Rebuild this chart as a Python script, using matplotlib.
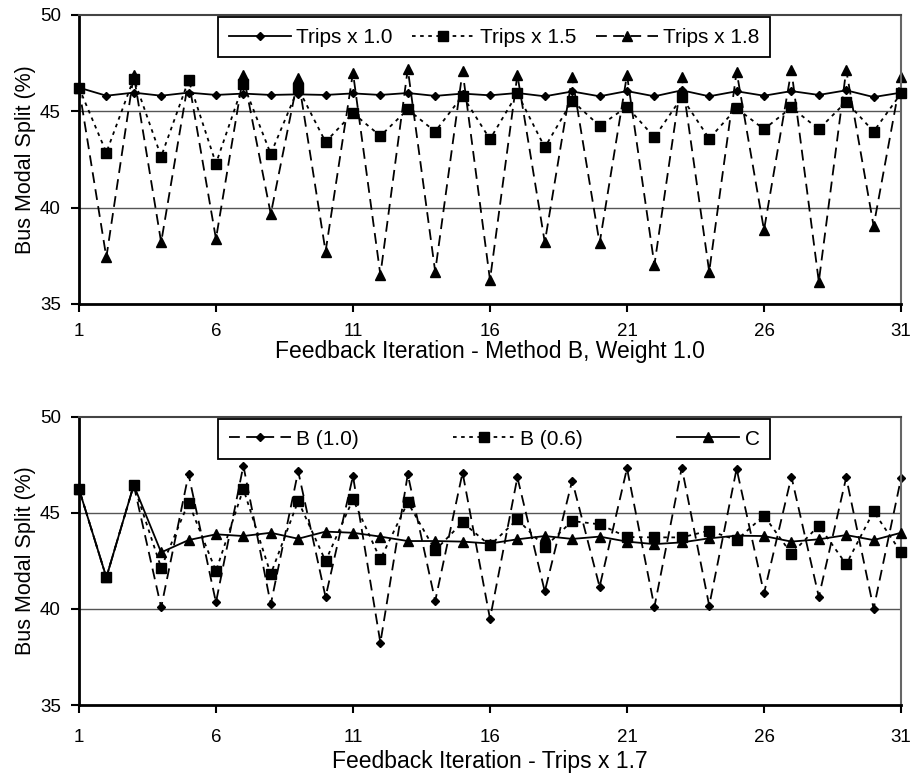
import matplotlib
matplotlib.use("Agg")
import matplotlib.pyplot as plt

plt.rcParams['font.family'] = ['Liberation Sans', 'DejaVu Sans']

iters = list(range(1, 32))

# top panel: Method B, weight 1.0
trips_10 = [46.23, 45.81, 45.97, 45.81, 45.97, 45.85, 45.92, 45.85, 45.88, 45.85,
            45.93, 45.85, 45.95, 45.80, 45.92, 45.83, 45.95, 45.78, 46.03, 45.78,
            46.05, 45.78, 46.09, 45.78, 46.04, 45.81, 46.05, 45.85, 46.09, 45.74, 45.97]
trips_15 = [46.23, 42.86, 46.70, 42.65, 46.61, 42.29, 46.42, 42.79, 46.19, 43.41,
            44.91, 43.72, 45.10, 43.95, 45.81, 43.55, 45.93, 43.13, 45.55, 44.24,
            45.24, 43.65, 45.73, 43.58, 45.16, 44.07, 45.20, 44.07, 45.50, 43.95, 45.93]
trips_18 = [46.23, 37.42, 46.89, 38.20, 46.63, 38.38, 46.89, 39.67, 46.75, 37.72,
            47.01, 36.51, 47.20, 36.68, 47.09, 36.25, 46.89, 38.20, 46.77, 38.15,
            46.89, 37.03, 46.77, 36.68, 47.06, 38.84, 47.14, 36.16, 47.14, 39.05, 46.77]

# bottom panel: trips x 1.7
b_10 = [46.24, 41.64, 46.44, 40.08, 47.00, 40.34, 47.45, 40.24, 47.16, 40.62,
        46.91, 38.24, 47.00, 40.41, 47.09, 39.49, 46.84, 40.91, 46.67, 41.15,
        47.31, 40.10, 47.35, 40.17, 47.29, 40.81, 46.88, 40.63, 46.84, 40.01, 46.79]
b_06 = [46.24, 41.64, 46.44, 42.14, 45.53, 41.97, 46.24, 41.81, 45.61, 42.49,
        45.70, 42.58, 45.54, 43.05, 44.50, 43.30, 44.66, 43.22, 44.57, 44.40,
        43.74, 43.72, 43.72, 44.07, 43.58, 44.85, 42.87, 44.33, 42.32, 45.07, 42.94]
c_vals = [46.24, 41.64, 46.44, 42.94, 43.58, 43.88, 43.79, 43.96, 43.65, 44.02,
          43.96, 43.76, 43.53, 43.53, 43.50, 43.40, 43.62, 43.79, 43.64, 43.76,
          43.50, 43.37, 43.46, 43.67, 43.81, 43.79, 43.50, 43.62, 43.84, 43.58, 43.96]

xticks = [1, 6, 11, 16, 21, 26, 31]

fig = plt.figure(figsize=(9.18, 7.81), dpi=100)
ax1 = fig.add_axes([0.086, 0.6108, 0.8955, 0.37])
ax2 = fig.add_axes([0.086, 0.0973, 0.8955, 0.3692])

dash_long = (0, (6, 3.5))
dash_short = (0, (2, 2.5))


def style_axes(ax, xlabel, xpad, lpad):
    ax.set_xlim(1, 31)
    ax.set_ylim(35, 50)
    ax.set_yticks([35, 40, 45, 50])
    ax.set_xticks(xticks)
    for y in (40, 45):
        ax.axhline(y, color='#555555', lw=1.0, zorder=0)
    ax.spines['left'].set_linewidth(2)
    ax.spines['bottom'].set_linewidth(2)
    ax.spines['top'].set_color('#444444')
    ax.spines['right'].set_color('#666666')
    ax.spines['top'].set_linewidth(1.5)
    ax.spines['right'].set_linewidth(1.5)
    ax.tick_params(direction='out', length=6, width=1.5, labelsize=13.5, pad=7)
    ax.tick_params(axis='x', pad=xpad)
    ax.set_ylabel('Bus Modal Split (%)', fontsize=15.5, labelpad=3)
    ax.set_xlabel(xlabel, fontsize=16.5, labelpad=lpad)


# top
ax1.plot(iters, trips_10, color='black', lw=1.3, ls='-', marker='D', ms=4.5,
         label='Trips x 1.0', clip_on=False, zorder=4)
ax1.plot(iters, trips_15, color='black', lw=1.3, ls=dash_short, marker='s', ms=6.5,
         label='Trips x 1.5', clip_on=False, zorder=3)
ax1.plot(iters, trips_18, color='black', lw=1.3, ls=dash_long, marker='^', ms=6.5,
         label='Trips x 1.8', clip_on=False, zorder=2)
style_axes(ax1, 'Feedback Iteration - Method B, Weight 1.0', 8, 0)

# bottom
ax2.plot(iters, b_10, color='black', lw=1.3, ls=dash_long, marker='D', ms=4.5,
         label='B (1.0)', clip_on=False, zorder=2)
ax2.plot(iters, b_06, color='black', lw=1.3, ls=dash_short, marker='s', ms=6.5,
         label='B (0.6)', clip_on=False, zorder=3)
ax2.plot(iters, c_vals, color='black', lw=1.3, ls='-', marker='^', ms=6.5,
         label='C', clip_on=False, zorder=4)
style_axes(ax2, 'Feedback Iteration - Trips x 1.7', 11, 3)

for ax in (ax1, ax2):
    leg = ax.legend(loc='upper left', bbox_to_anchor=(0.168, 0.995, 0.674, 0.0),
                    mode='expand', ncol=3, numpoints=1, handlelength=3.0,
                    fontsize=15, fancybox=False, framealpha=1, edgecolor='black',
                    borderaxespad=0.05, borderpad=0.5, handletextpad=0.25)
    leg.get_frame().set_linewidth(1.3)

fig.savefig('out.png', dpi=100)
